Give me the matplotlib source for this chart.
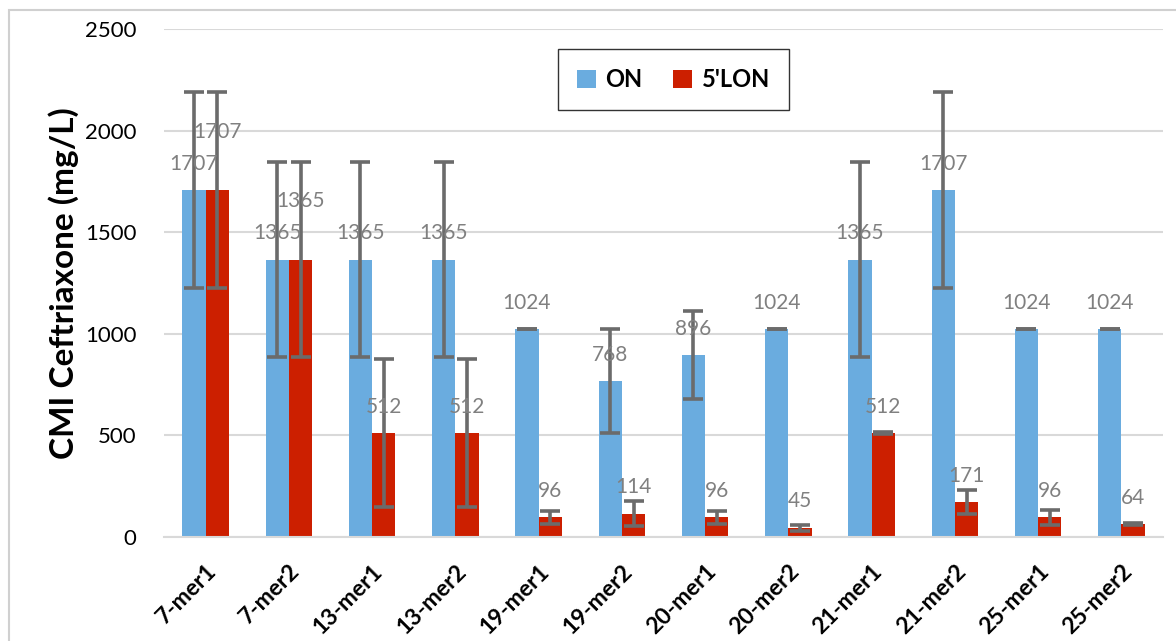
import matplotlib
matplotlib.use("Agg")
import matplotlib.pyplot as plt
import numpy as np
from matplotlib.patches import Rectangle

categories = ["7-mer1", "7-mer2", "13-mer1", "13-mer2", "19-mer1", "19-mer2",
              "20-mer1", "20-mer2", "21-mer1", "21-mer2", "25-mer1", "25-mer2"]
on_values = [1707, 1365, 1365, 1365, 1024, 768, 896, 1024, 1365, 1707, 1024, 1024]
on_errors = [483, 480, 480, 480, 0, 256, 218, 0, 480, 483, 0, 0]
lon_values = [1707, 1365, 512, 512, 96, 114, 96, 45, 512, 171, 96, 64]
lon_errors = [483, 480, 362, 362, 30, 62, 30, 15, 5, 60, 35, 5]
series_names = ["ON", "5'LON"]
yticks = [0, 500, 1000, 1500, 2000, 2500]

blue = "#6AACDF"
red = "#CC1F00"
err_col = "#6B6B6B"
lab_col = "#808080"
font = "Lato"

fig = plt.figure(figsize=(11.76, 6.41), dpi=100)
fig.patches.append(Rectangle((9 / 1176, -0.1), 1.2, 1 - 10 / 641 + 0.1,
                             transform=fig.transFigure, fill=False,
                             edgecolor="#D0D0D0", linewidth=1.5))
ax = fig.add_axes([164 / 1176, (641 - 537) / 641, (1163 - 164) / 1176, (537 - 29) / 641])

x = np.arange(len(categories))
w = 0.28
b1 = ax.bar(x - w / 2, on_values, w, color=blue, label=series_names[0], zorder=2)
b2 = ax.bar(x + w / 2, lon_values, w, color=red, label=series_names[1], zorder=2)
ekw = dict(fmt="none", ecolor=err_col, elinewidth=2.6, capsize=7, capthick=2.6, zorder=3)
ax.errorbar(x - w / 2, on_values, yerr=on_errors, **ekw)
ax.errorbar(x + w / 2, lon_values, yerr=lon_errors, **ekw)

for xi, v in zip(x - w / 2, on_values):
    ax.annotate(str(v), (xi, v), xytext=(0, 19), textcoords="offset points",
                ha="center", va="center", color=lab_col, fontsize=15, family=font, zorder=4)
for xi, v, ov in zip(x + w / 2, lon_values, on_values):
    off = 42 if v == ov else 19
    ax.annotate(str(v), (xi, v), xytext=(0, off), textcoords="offset points",
                ha="center", va="center", color=lab_col, fontsize=15, family=font, zorder=4)

ax.set_xlim(-0.5, len(categories) - 0.5)
ax.set_ylim(0, 2500)
ax.set_yticks(yticks)
ax.set_yticklabels([str(t) for t in yticks], fontsize=16, family=font)
ax.set_xticks(x)
ax.set_xticklabels(categories, rotation=45, ha="right", va="top", rotation_mode="anchor",
                   fontsize=16.5, fontweight="bold", family=font)
ax.tick_params(axis="y", length=0, pad=20)
ax.tick_params(axis="x", length=0, pad=17)
ax.yaxis.grid(True, color="#D9D9D9", linewidth=1.5, zorder=0)
ax.set_axisbelow(True)
for s in ["top", "right", "left"]:
    ax.spines[s].set_visible(False)
ax.spines["bottom"].set_color("#D9D9D9")
ax.spines["bottom"].set_linewidth(1.5)
ax.set_ylabel("CMI Ceftriaxone (mg/L)", fontsize=24, fontweight="bold", family=font, labelpad=4)

leg = ax.legend(handles=[b1, b2], loc="upper center", bbox_to_anchor=(0.51, 0.96),
                ncol=2, frameon=True, fancybox=False, edgecolor="black",
                prop={"family": font, "weight": "bold", "size": 17},
                handlelength=0.8, handleheight=0.8, handletextpad=0.4, columnspacing=1.3,
                borderpad=0.8, borderaxespad=0)
leg.get_frame().set_linewidth(1.0)

fig.savefig("out.png", dpi=100)
